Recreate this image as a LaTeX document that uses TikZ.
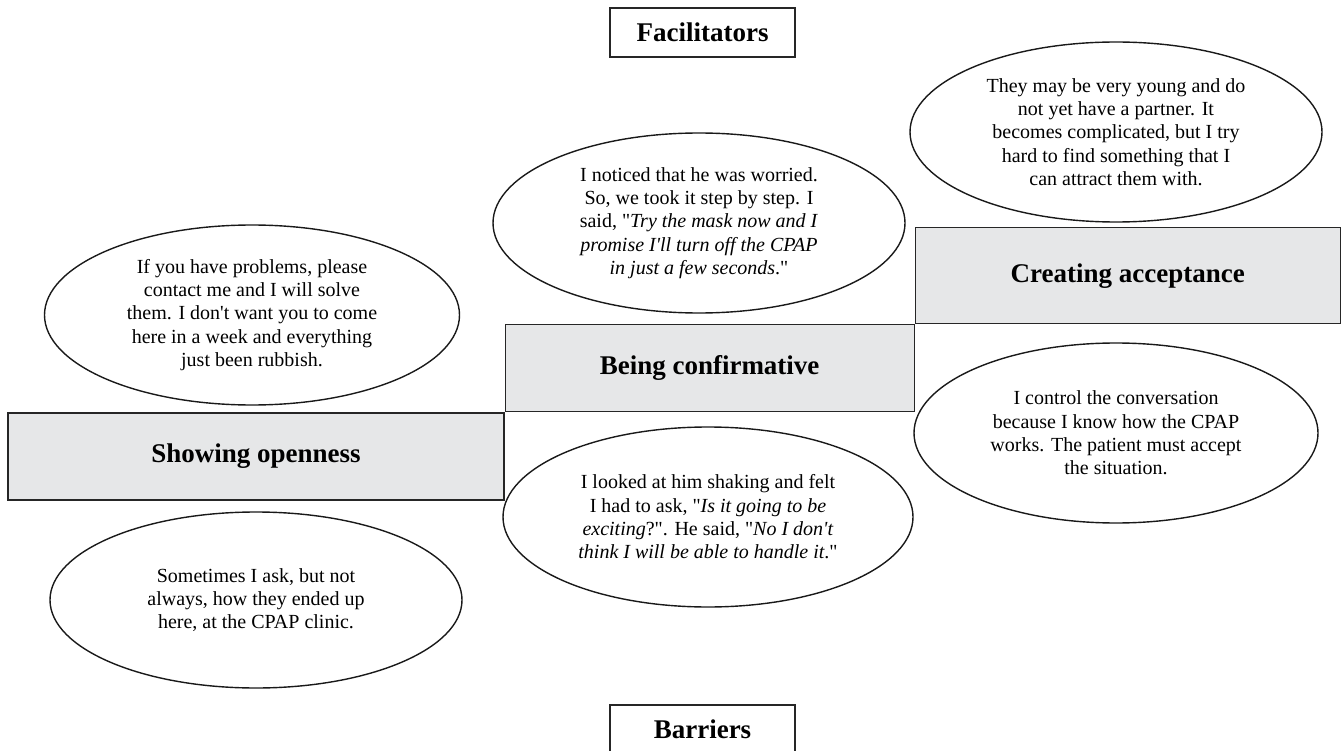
\documentclass[tikz,border=0pt]{standalone}
\usepackage{fontspec}
\setmainfont{Liberation Serif}
\usepackage{tikz}
\definecolor{clrCat}{RGB}{230,231,232}
\usetikzlibrary{shapes.geometric,positioning}
\newcommand{\ap}{\textquotesingle}
\newcommand{\qt}{\textquotedbl}

\begin{document}
\begin{tikzpicture}[
  x=1pt, y=-1pt,
  every node/.style = {font=\fontsize{20}{23.3}\selectfont},
  %--- node styles ---------------------------------------------------
  headst/.style  = {draw=black!85, line width=1.1pt, rectangle,
                    minimum width=185pt, minimum height=49pt,
                    font=\fontsize{27}{30}\selectfont\bfseries},
  catst/.style   = {draw=black!85, line width=1.1pt, fill=clrCat, rectangle,
                    minimum height=87pt, inner sep=0pt,
                    font=\fontsize{27}{30}\selectfont\bfseries},
  quotest/.style = {draw=black!90, line width=1.4pt, ellipse, inner sep=0pt,
                    minimum width=412pt, minimum height=180pt,
                    align=center},
]
\useasboundingbox (0,0) rectangle (1343,751);

% ---- Headings -----------------------------------------------------
\node[headst] (fac) at (702.5,32.5) {Facilitators};
\node[headst] (bar) at (702.5,729.5) {Barriers};

% ---- Categories (staircase) ---------------------------------------
\node[catst, minimum width=496pt] (open) at (256,456.5) {Showing openness};
\node[catst, minimum width=409pt, above right=0pt of open] (conf)
    {Being confirmative};
\node[catst, minimum width=425pt, minimum height=96pt,
      above right=0pt of conf] (accept) {Creating acceptance};

% ---- Quotes -------------------------------------------------------
\node[quotest] (qyoung) at (1116,132)
    {They may be very young and do\\ not yet have a partner. It\\
     becomes complicated, but I try\\ hard to find something that I\\
     can attract them with.};

\node[quotest] (qworried) at (699,223)
    {I noticed that he was worried.\\ So, we took it step by step. I\\
     said, \qt\textit{Try the mask now and I}\\
     \textit{promise I\ap ll turn off the CPAP}\\
     \textit{in just a few seconds}.\qt};

\node[quotest, minimum width=415pt] (qproblems) at (252,315)
    {If you have problems, please\\ contact me and I will solve\\
     them. I don\ap t want you to come\\ here in a week and everything\\
     just been rubbish.};

\node[quotest, minimum width=404pt] (qcontrol) at (1116,433)
    {I control the conversation\\ because I know how the CPAP\\
     works. The patient must accept\\ the situation.};

\node[quotest, minimum width=410pt] (qshaking) at (708,517)
    {I looked at him shaking and felt\\
     I had to ask, \qt\textit{Is it going to be}\\
     \textit{exciting}?\qt. He said, \qt\textit{No I don\ap t}\\
     \textit{think I will be able to handle it}.\qt};

\node[quotest, minimum height=176pt] (qsometimes) at (256,600)
    {Sometimes I ask, but not\\ always, how they ended up\\
     here, at the CPAP clinic.};

\end{tikzpicture}
\end{document}
